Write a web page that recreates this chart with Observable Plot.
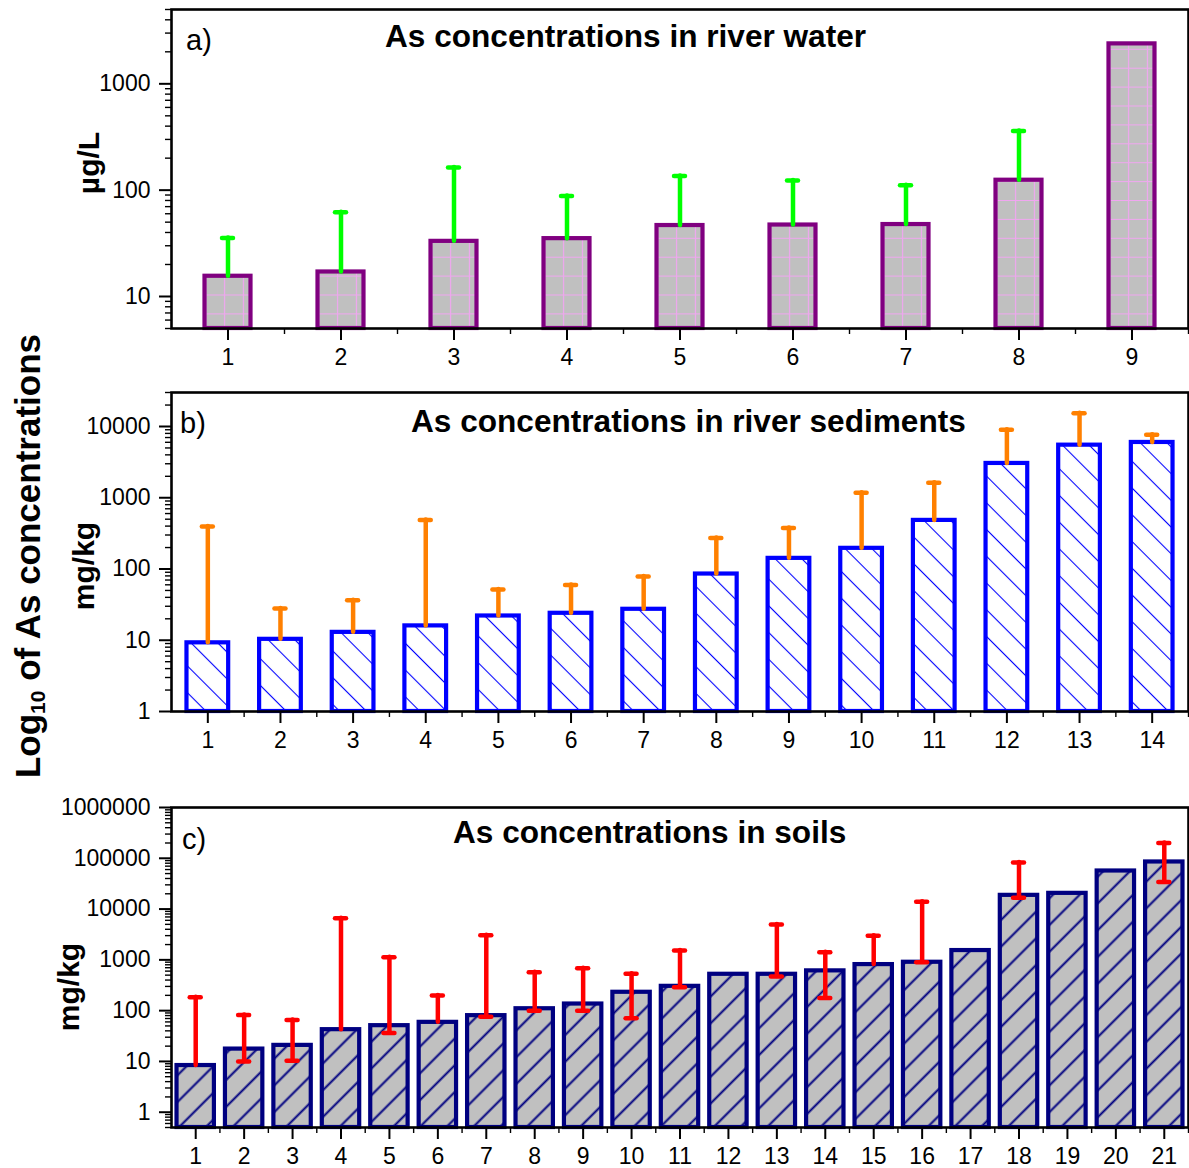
<!DOCTYPE html>
<html>
<head>
<meta charset="utf-8">
<script src="https://cdn.jsdelivr.net/npm/d3@7"></script>
<script src="https://cdn.jsdelivr.net/npm/@observablehq/plot@0.6"></script>
<style>
  body { margin: 0; background: #fff; }
  #chart { position: relative; width: 1189px; height: 1168px; font-family: "Liberation Sans", Arial, sans-serif; }
  #chart svg { position: absolute; left: 0; overflow: visible; }
  #biglabel {
    position: absolute; left: 29px; top: 556px;
    transform: translate(-50%, -50%) rotate(-90deg);
    white-space: nowrap; font-weight: bold; font-size: 35px; color: #000;
  }
  #biglabel sub { font-size: 21px; vertical-align: -5px; }
</style>
</head>
<body>
<div id="chart">
  <div id="biglabel">Log<sub>10</sub> of As concentrations</div>
</div>
<script>
// a) As in river water, µg/L
const waterSites = [1, 2, 3, 4, 5, 6, 7, 8, 9];
const waterMean  = [15.5, 17, 33, 35, 46.5, 47, 47.5, 124, 2375];
const waterUpper = [35.5, 62, 163, 88, 136, 123, 111, 361, null];

// b) As in river sediments, mg/kg
const sedimentSites = [1, 2, 3, 4, 5, 6, 7, 8, 9, 10, 11, 12, 13, 14];
const sedimentMean  = [9.2, 10.3, 12.9, 15.9, 21.9, 23.9, 27.2, 85, 141, 195, 481, 3030, 5470, 5970];
const sedimentUpper = [395, 27.8, 36.4, 486, 51.4, 59.7, 78.7, 272, 376, 1175, 1624, 8990, 15400, 7650];

// c) As in soils, mg/kg
const soilSites = [1, 2, 3, 4, 5, 6, 7, 8, 9, 10, 11, 12, 13, 14, 15, 16, 17, 18, 19, 20, 21];
const soilMean  = [8.3, 17.5, 20.7, 42.2, 50.6, 58.8, 79.7, 109, 135, 230, 301, 520, 520, 607, 807, 897, 1525, 18630, 20400, 56200, 84600];
const soilLower = [null, 10, 10.3, null, 36.3, null, 76, 100, 100, 70.5, 288, null, 468, 178, null, 897, null, 16700, null, null, 34100];
const soilUpper = [183, 82, 65.6, 6560, 1126, 198, 3055, 569, 682, 530, 1525, null, 4970, 1412, 2973, 13900, null, 82200, null, null, 200000];

// Axis tick labels
const waterTicks = [10, 100, 1000];
const sedimentTicks = [1, 10, 100, 1000, 10000];
const soilTicks = [1, 10, 100, 1000, 10000, 100000, 1000000];

const W = 1189;
const chart = document.getElementById("chart");

function addPattern(svg, spec) {
  let defs = svg.select("defs");
  if (defs.empty()) defs = svg.insert("defs", ":first-child");
  const p = defs.append("pattern")
    .attr("id", spec.id)
    .attr("patternUnits", "userSpaceOnUse")
    .attr("width", spec.w).attr("height", spec.h)
    .attr("x", spec.x || 0).attr("y", spec.y || 0);
  if (spec.transform) p.attr("patternTransform", spec.transform);
  p.append("rect").attr("width", spec.w).attr("height", spec.h).attr("fill", spec.bg);
  spec.draw(p);
}

function panel(cfg) {
  const {sites, mean, upper, lower, yDomain, ticks, barFrac, barStroke, fillId,
         errColor, top, height, marginTop, marginBottom, marginLeft = 171, marginRight = 1} = cfg;
  const rows = sites.map((s, i) => ({
    site: String(s),
    mean: mean[i],
    upper: upper[i],
    lower: lower ? lower[i] : null
  }));
  const step = (W - marginLeft - marginRight) / sites.length;
  const barInset = step * (1 - barFrac) / 2;
  const capLen = 11;
  const capInset = (step - capLen) / 2;
  const minor = d3.scaleLog().domain(yDomain).ticks().filter(t => !ticks.includes(t));
  const withUpper = rows.filter(d => d.upper != null);
  const withLower = rows.filter(d => d.lower != null);

  const plot = Plot.plot({
    width: W, height, marginTop, marginBottom, marginLeft, marginRight,
    style: {fontFamily: '"Liberation Sans", Arial, sans-serif', fontSize: "23px", color: "#000", background: "transparent"},
    x: {type: "band", domain: sites.map(String), padding: 0, round: false},
    y: {type: "log", domain: yDomain},
    marks: [
      Plot.barY(rows, {x: "site", y1: yDomain[0], y2: "mean", fill: `url(#${fillId})`,
        stroke: barStroke, strokeWidth: 4.2, insetLeft: barInset, insetRight: barInset}),
      Plot.frame({stroke: "#000", strokeWidth: 2.6}),
      Plot.ruleX(withUpper, {x: "site", y1: d => d.lower ?? d.mean, y2: "upper",
        stroke: errColor, strokeWidth: 4.5, strokeLinecap: "round"}),
      Plot.tickY(withUpper, {x: "site", y: "upper", stroke: errColor, strokeWidth: 4.5,
        strokeLinecap: "round", insetLeft: capInset, insetRight: capInset}),
      Plot.tickY(withLower, {x: "site", y: "lower", stroke: errColor, strokeWidth: 4.5,
        strokeLinecap: "round", insetLeft: capInset, insetRight: capInset}),
      Plot.axisY({ticks, tickSize: 12, tickPadding: 9, tickFormat: d => String(d), label: null, strokeWidth: 2}),
      Plot.axisY({ticks: minor, tickSize: 6, tickFormat: () => "", label: null, strokeWidth: 1.4}),
      Plot.axisX({tickSize: 12, tickPadding: 8, label: null, strokeWidth: 2}),
      Plot.axisX({ticks: sites.map(String), tickSize: 6, tickFormat: () => "", dx: step / 2, label: null, strokeWidth: 1.4})
    ]
  });
  plot.style.top = top + "px";
  chart.appendChild(plot);
  const svg = d3.select(plot);

  // Titles and panel letters
  svg.append("text").attr("x", cfg.titleX).attr("y", cfg.titleY).attr("text-anchor", "start")
    .attr("font-size", 31.6).attr("font-weight", "bold").attr("fill", "#000").text(cfg.title);
  svg.append("text").attr("x", cfg.letterX).attr("y", cfg.letterY).attr("text-anchor", "start")
    .attr("font-size", 29).attr("fill", "#000").text(cfg.letter);
  svg.append("text")
    .attr("transform", `translate(${cfg.unitX},${cfg.unitY}) rotate(-90)`)
    .attr("text-anchor", "middle").attr("font-size", 30).attr("font-weight", "bold")
    .attr("fill", "#000").text(cfg.unit);
  return svg;
}

// a) river water
const svgA = panel({
  sites: waterSites, mean: waterMean, upper: waterUpper, lower: null,
  yDomain: [5, 5000], ticks: waterTicks, barFrac: 0.407,
  barStroke: "#800080", fillId: "gridWater", errColor: "#00ff00",
  top: 0, height: 385, marginTop: 9, marginBottom: 57,
  title: "As concentrations in river water", titleX: 385, titleY: 47,
  letter: "a)", letterX: 186, letterY: 50,
  unit: "µg/L", unitX: 99, unitY: 163
});
addPattern(svgA, {
  id: "gridWater", w: 113 / 6, h: 18.9, x: 224.6 - 113 / 12, y: 295 - 9.45, bg: "#c0c0c0",
  draw: p => {
    p.append("path").attr("d", `M${113 / 12},0V18.9M0,9.45H${113 / 6}`)
      .attr("stroke", "#f0a6f0").attr("stroke-width", 1.2).attr("fill", "none");
  }
});

// b) river sediments
const svgB = panel({
  sites: sedimentSites, mean: sedimentMean, upper: sedimentUpper, lower: null,
  yDomain: [1, 30000], ticks: sedimentTicks, barFrac: 0.574,
  barStroke: "#0000ff", fillId: "hatchSediment", errColor: "#ff8000",
  top: 385, height: 400, marginTop: 7, marginBottom: 74,
  title: "As concentrations in river sediments", titleX: 411, titleY: 47,
  letter: "b)", letterX: 180, letterY: 48,
  unit: "mg/kg", unitX: 94, unitY: 181
});
addPattern(svgB, {
  id: "hatchSediment", w: 18.9, h: 20, bg: "#ffffff", transform: "rotate(-45)",
  draw: p => {
    p.append("path").attr("d", "M9.45,-1V21").attr("stroke", "#0000ff")
      .attr("stroke-width", 1.1).attr("fill", "none");
  }
});

// c) soils
const svgC = panel({
  sites: soilSites, mean: soilMean, upper: soilUpper, lower: soilLower,
  yDomain: [0.5, 1000000], ticks: soilTicks, barFrac: 0.772,
  barStroke: "#000080", fillId: "hatchSoil", errColor: "#ff0000",
  top: 785, height: 383, marginTop: 22, marginBottom: 41,
  title: "As concentrations in soils", titleX: 453, titleY: 58,
  letter: "c)", letterX: 182, letterY: 64,
  unit: "mg/kg", unitX: 79, unitY: 202
});
addPattern(svgC, {
  id: "hatchSoil", w: 18.9, h: 20, bg: "#c0c0c0", transform: "rotate(45)",
  draw: p => {
    p.append("path").attr("d", "M9.45,-1V21").attr("stroke", "#000080")
      .attr("stroke-width", 2).attr("fill", "none");
  }
});
</script>
</body>
</html>
